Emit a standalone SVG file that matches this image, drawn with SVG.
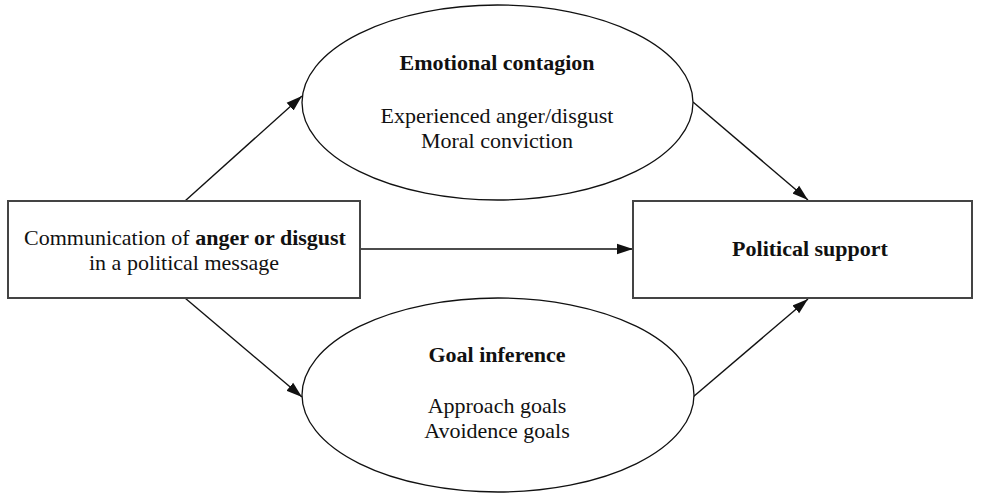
<svg xmlns="http://www.w3.org/2000/svg" width="981" height="494" viewBox="0 0 981 494">
  <style>
    .box { fill: #fff; stroke: #444; stroke-width: 2; }
    .oval { fill: #fff; stroke: #111; stroke-width: 1.3; }
    .edge { stroke: #111; stroke-width: 1.4; fill: none; marker-end: url(#arrow); }
    text { font-family: "Liberation Serif", "Times New Roman", serif; font-size: 22px; fill: #111; text-anchor: middle; }
    .b { font-weight: bold; }
  </style>
  <defs>
    <marker id="arrow" markerUnits="userSpaceOnUse" markerWidth="17" markerHeight="12" refX="16" refY="6" orient="auto">
      <path d="M0,0.8 L16,6 L0,11.2 Z" fill="#111"/>
    </marker>
  </defs>

  <!-- connectors -->
  <g id="connectors">
    <line class="edge" x1="185" y1="201" x2="302" y2="96"/>
    <line class="edge" x1="185" y1="298" x2="302" y2="397"/>
    <line class="edge" x1="360" y1="249" x2="633" y2="249"/>
    <line class="edge" x1="693" y1="102" x2="808" y2="200"/>
    <line class="edge" x1="693" y1="397" x2="808" y2="299"/>
  </g>

  <!-- source -->
  <g id="communication">
    <rect class="box" x="8" y="201" width="352" height="97"/>
    <text x="185" y="245">Communication of <tspan class="b">anger or disgust</tspan></text>
    <text x="184" y="270">in a political message</text>
  </g>

  <!-- mediator 1 -->
  <g id="emotional-contagion">
    <ellipse class="oval" cx="497.5" cy="102.5" rx="195.5" ry="97.5"/>
    <text class="b" x="497" y="70">Emotional contagion</text>
    <text x="497" y="123">Experienced anger/disgust</text>
    <text x="497" y="148">Moral conviction</text>
  </g>

  <!-- mediator 2 -->
  <g id="goal-inference">
    <ellipse class="oval" cx="498" cy="395" rx="196" ry="97"/>
    <text class="b" x="497" y="362">Goal inference</text>
    <text x="497" y="413">Approach goals</text>
    <text x="497" y="438">Avoidence goals</text>
  </g>

  <!-- outcome -->
  <g id="political-support">
    <rect class="box" x="633" y="201" width="339" height="97"/>
    <text class="b" x="810" y="256">Political support</text>
  </g>
</svg>
